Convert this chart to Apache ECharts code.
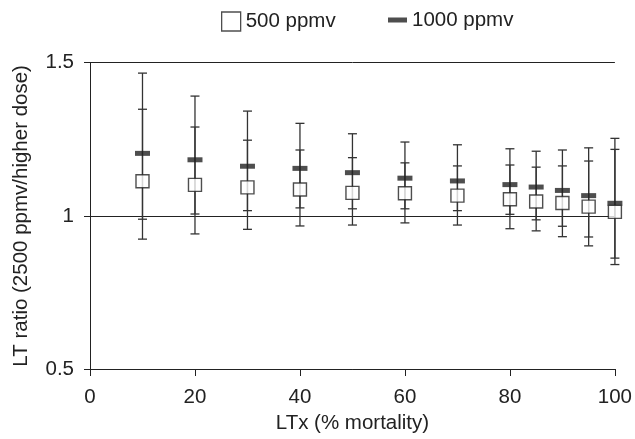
<!DOCTYPE html>
<html>
<head>
<meta charset="utf-8">
<script src="https://cdn.jsdelivr.net/npm/echarts@6/dist/echarts.min.js"></script>
<style>html,body{margin:0;padding:0;background:#fff}#c{width:635px;height:439px}</style>
</head>
<body>
<div id="c"></div>
<script>
// LTx (% mortality)
const mortality = [10, 20, 30, 40, 50, 60, 70, 80, 85, 90, 95, 100];
// LT ratio, 500 ppmv (open squares)
const ratio500 = [1.113, 1.101, 1.093, 1.086, 1.075, 1.074, 1.066, 1.054, 1.047, 1.042, 1.030, 1.013];
const ci500Low = [0.989, 1.006, 1.017, 1.026, 1.023, 1.023, 1.017, 1.005, 0.987, 0.966, 0.931, 0.862];
const ci500High = [1.348, 1.290, 1.247, 1.215, 1.190, 1.173, 1.163, 1.166, 1.159, 1.163, 1.179, 1.217];
// LT ratio, 1000 ppmv (black dashes)
const ratio1000 = [1.204, 1.183, 1.162, 1.155, 1.141, 1.123, 1.114, 1.102, 1.094, 1.083, 1.066, 1.041];
const ci1000Low = [0.924, 0.941, 0.956, 0.967, 0.970, 0.977, 0.970, 0.958, 0.951, 0.932, 0.902, 0.841];
const ci1000High = [1.466, 1.391, 1.342, 1.302, 1.268, 1.241, 1.232, 1.219, 1.211, 1.215, 1.222, 1.253];
const xTicks = [0, 20, 40, 60, 80, 100];
const yTicks = [0.5, 1, 1.5];

const FONT = '"Liberation Sans", Arial, Helvetica, sans-serif';
const INK = '#222';

function errData(lo, hi) {
  return mortality.map((m, i) => [m, lo[i], hi[i]]);
}
function errRender(params, api) {
  const x = api.value(0);
  const p1 = api.coord([x, api.value(1)]);
  const p2 = api.coord([x, api.value(2)]);
  const cap = 4.5;
  const st = { stroke: '#333', lineWidth: 1.3 };
  return {
    type: 'group',
    children: [
      { type: 'line', shape: { x1: p1[0], y1: p1[1], x2: p2[0], y2: p2[1] }, style: st },
      { type: 'line', shape: { x1: p1[0] - cap, y1: p1[1], x2: p1[0] + cap, y2: p1[1] }, style: st },
      { type: 'line', shape: { x1: p2[0] - cap, y1: p2[1], x2: p2[0] + cap, y2: p2[1] }, style: st }
    ]
  };
}

const chart = echarts.init(document.getElementById('c'), null, { renderer: 'canvas' });
chart.setOption({
  animation: false,
  backgroundColor: '#fff',
  textStyle: { fontFamily: FONT, color: INK },
  grid: { left: 90, right: 13, top: 62.7, bottom: 68.5, containLabel: false },
  legend: [
    {
      left: 221, top: 11, padding: 0, itemWidth: 19, itemHeight: 19, selectedMode: false,
      data: [{ name: '500 ppmv', icon: 'rect', itemStyle: { color: '#fff', borderColor: INK, borderWidth: 1.3 } }],
      textStyle: { fontFamily: FONT, fontSize: 20.5, color: INK }
    },
    {
      left: 388, top: 9.5, padding: 0, itemWidth: 19, itemHeight: 5, selectedMode: false,
      data: [{ name: '1000 ppmv', icon: 'rect', itemStyle: { color: INK } }],
      textStyle: { fontFamily: FONT, fontSize: 20.5, color: INK }
    }
  ],
  xAxis: {
    type: 'value', min: xTicks[0], max: xTicks[xTicks.length - 1], interval: 20,
    name: 'LTx (% mortality)', nameLocation: 'middle', nameGap: 44,
    nameTextStyle: { fontFamily: FONT, fontSize: 20.5, color: INK },
    axisLine: { show: true, lineStyle: { color: INK, width: 1 } },
    axisTick: { show: true, length: 7, lineStyle: { color: INK, width: 1 } },
    axisLabel: { margin: 18, fontFamily: FONT, fontSize: 20.5, color: INK },
    splitLine: { show: false }
  },
  yAxis: {
    type: 'value', min: yTicks[0], max: yTicks[yTicks.length - 1], interval: 0.5,
    name: 'LT ratio (2500 ppmv/higher dose)', nameLocation: 'middle', nameGap: 58,
    nameTextStyle: { fontFamily: FONT, fontSize: 20.5, color: INK },
    axisLine: { show: true, lineStyle: { color: INK, width: 1 } },
    axisTick: { show: true, length: 6, lineStyle: { color: INK, width: 1 } },
    axisLabel: { margin: 16, fontFamily: FONT, fontSize: 20.5, color: INK },
    splitLine: { show: true, lineStyle: { color: INK, width: 1 } }
  },
  series: [
    { type: 'custom', name: 'err1000', renderItem: errRender, data: errData(ci1000Low, ci1000High), z: 2, silent: true },
    { type: 'custom', name: 'err500', renderItem: errRender, data: errData(ci500Low, ci500High), z: 2, silent: true },
    {
      type: 'scatter', name: '1000 ppmv', symbol: 'rect', symbolSize: [15, 5], z: 3,
      itemStyle: { color: INK },
      data: mortality.map((m, i) => [m, ratio1000[i]])
    },
    {
      type: 'scatter', name: '500 ppmv', symbol: 'rect', symbolSize: 13, z: 4,
      itemStyle: { color: '#fff', borderColor: INK, borderWidth: 1.4 },
      data: mortality.map((m, i) => [m, ratio500[i]])
    }
  ]
});
</script>
</body>
</html>
